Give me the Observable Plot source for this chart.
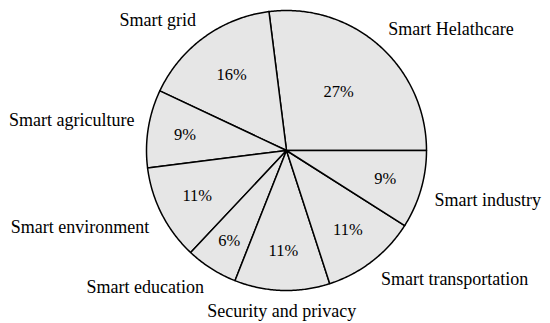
<!DOCTYPE html>
<html><head><meta charset="utf-8">
<script src="https://cdn.jsdelivr.net/npm/d3@7"></script>
<script src="https://cdn.jsdelivr.net/npm/@observablehq/plot@0.6"></script>
<style>body{margin:0;background:#fff} svg text{font-family:"Liberation Serif",serif !important;}</style>
</head><body><div id="chart"></div>
<script>
// Data
const categories = ["Smart Helathcare", "Smart grid", "Smart agriculture", "Smart environment",
  "Smart education", "Security and privacy", "Smart transportation", "Smart industry"];
const shares = [27, 16, 9, 11, 6, 11, 11, 9];

// Layout
const W = 550, H = 323, cx = 286, cy = 150, R = 140;
const FONT = "'Liberation Serif', serif";
const FS_LABEL = 18;
const FS_PCT = 16.5;

const total = d3.sum(shares);
let acc = 0;
const slices = categories.map((name, i) => {
  const a0 = acc / total * 2 * Math.PI;
  acc += shares[i];
  const a1 = acc / total * 2 * Math.PI;
  return {name, value: shares[i], a0, a1, mid: (a0 + a1) / 2};
});

// slice outlines (center -> arc -> center)
const outline = slices.flatMap(s => {
  const n = Math.max(2, Math.ceil((s.a1 - s.a0) / 0.01));
  const pts = [{name: s.name, x: 0, y: 0}];
  for (let k = 0; k <= n; k++) {
    const a = s.a0 + (s.a1 - s.a0) * k / n;
    pts.push({name: s.name, x: Math.cos(a), y: Math.sin(a)});
  }
  pts.push({name: s.name, x: 0, y: 0});
  return pts;
});

// percentage labels inside
const pct = slices.map(s => {
  const rf = 0.82 - 0.0095 * s.value;
  return {x: rf * Math.cos(s.mid), y: rf * Math.sin(s.mid), text: s.value + "%"};
});

// outer labels
const outer = slices.map(s => {
  const c = Math.cos(s.mid), sn = Math.sin(s.mid);
  const ta = Math.abs(c) < 0.2 ? "middle" : (c > 0 ? "start" : "end");
  const la = sn > 0 ? "bottom" : "top";
  return {x: 1.1 * c, y: 1.1 * sn, text: s.name, ta, la};
});

const textMarks = [];
for (const ta of ["start", "middle", "end"]) {
  for (const la of ["top", "bottom"]) {
    const sub = outer.filter(d => d.ta === ta && d.la === la);
    if (sub.length) textMarks.push(Plot.text(sub, {x: "x", y: "y", text: "text", textAnchor: ta, lineAnchor: la, fontSize: FS_LABEL, fontFamily: FONT, fill: "black"}));
  }
}

const chart = Plot.plot({
  width: W, height: H, margin: 0,
  x: {domain: [-cx / R, (W - cx) / R], axis: null},
  y: {domain: [-(H - cy) / R, cy / R], axis: null},
  style: {fontFamily: FONT, background: "white", color: "black"},
  marks: [
    Plot.line(outline, {x: "x", y: "y", z: "name", fill: "#e6e6e6", stroke: "black", strokeWidth: 1.5, strokeLinejoin: "round"}),
    Plot.text(pct, {x: "x", y: "y", text: "text", fontSize: FS_PCT, fontFamily: FONT, fill: "black"}),
    ...textMarks
  ]
});
document.getElementById("chart").appendChild(chart);
</script>
</body></html>
